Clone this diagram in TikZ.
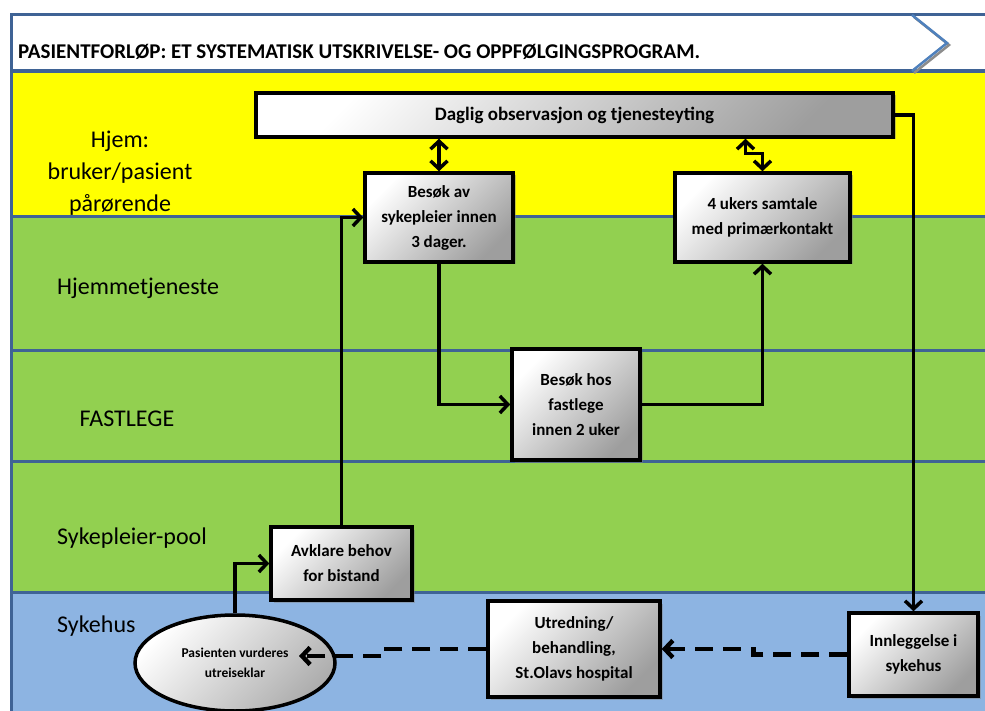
\documentclass[tikz,border=0pt]{standalone}
\usepackage{fontspec}
\setmainfont{Carlito}
\usepackage{xcolor}
\definecolor{homecolor}{HTML}{FFFF00}
\definecolor{lanegreen}{HTML}{92D050}
\definecolor{laneblue}{HTML}{8DB4E2}
\definecolor{laneborder}{HTML}{3F6395}
\definecolor{chevroncolor}{HTML}{4F81BD}
\usepackage{tikz}
\usetikzlibrary{positioning,arrows.meta,calc,shapes.geometric,shadows}
\tikzset{
    box/.style={
        rectangle,
        draw=black,
        line width=3.5pt,
        top color=white,
        bottom color=black!38,
        shading angle=45,
        text=black,
        align=center,
        inner sep=2pt,
        font=\bfseries\fontsize{17}{25}\selectfont,
        drop shadow={shadow xshift=2.5pt, shadow yshift=-2.5pt, opacity=0.45},
    },
    roundbox/.style={
        ellipse,
        draw=black,
        line width=3.5pt,
        top color=white,
        bottom color=black!32,
        shading angle=45,
        text=black,
        align=center,
        inner sep=0pt,
        font=\bfseries\fontsize{13.5}{19.5}\selectfont,
    },
    lanelabel/.style={
        text=black,
        align=center,
        inner sep=0pt,
        font=\fontsize{24}{32}\selectfont,
    },
    lane/.style={
        draw=laneborder,
        line width=3pt,
    },
    flow/.style={
        -{Straight Barb[length=8pt,width=17pt]},
        line width=3.5pt,
        black,
    },
    twoway/.style={
        {Straight Barb[length=8pt,width=17pt]}-{Straight Barb[length=8pt,width=17pt]},
        line width=3.5pt,
        black,
    },
    backflow/.style={
        -{Straight Barb[length=8pt,width=17pt]},
        line width=4.5pt,
        black,
        dash pattern=on 18pt off 10pt,
    },
}

\begin{document}
\begin{tikzpicture}[x=1pt, y=-1pt]
    \useasboundingbox (0,0) rectangle (985,711);

    % Lanes
    \fill[white] (11,15) rectangle (985,71);
    \fill[homecolor] (11,71) rectangle (985,217);
    \fill[lanegreen] (11,217) rectangle (985,592);
    \fill[laneblue] (11,592) rectangle (985,711);
    \draw[lane] (11,15) -- (985,15);
    \draw[lane, line width=4pt] (11,71) -- (985,71);
    \draw[lane] (11,217) -- (985,217);
    \draw[lane] (11,350) -- (985,350);
    \draw[lane] (11,461) -- (985,461);
    \draw[lane] (11,592) -- (985,592);
    \draw[lane] (11,13.5) -- (11,711);

    % Chevron
    \draw[black!45, line width=2.5pt] (914,17) -- (949,45) -- (914,73);
    \draw[chevroncolor, line width=2.5pt] (912,15) -- (947,43) -- (912,71);

    % Title
    \node[anchor=west, inner sep=0pt, font=\bfseries\fontsize{21}{24}\selectfont] (title) at (18,52)
        {PASIENTFORLØP: ET SYSTEMATISK UTSKRIVELSE- OG OPPFØLGINGSPROGRAM.};

    % Lane labels
    \node[lanelabel] (hjem) at (120,173) {Hjem:\\bruker/pasient\\pårørende};
    \node[lanelabel, anchor=west] (hjemmetj) at (57,288) {Hjemmetjeneste};
    \node[lanelabel] (fastlegelane) at (127,419) {FASTLEGE};
    \node[lanelabel, anchor=west] (pool) at (57,538) {Sykepleier-pool};
    \node[lanelabel, anchor=west] (sykehus) at (57,626) {Sykehus};

    % Boxes
    \node[box, minimum width=637pt, minimum height=44pt, font=\bfseries\fontsize{19}{24}\selectfont] (daglig) at (574.5,115)
        {Daglig observasjon og tjenesteyting};
    \node[box, minimum width=148pt, minimum height=89pt] (besokav) at (439,217.5)
        {Besøk av\\sykepleier innen\\3 dager.};
    \node[box, minimum width=175pt, minimum height=89pt] (ukers) at (762.5,217.5)
        {4 ukers samtale\\med primærkontakt};
    \node[box, minimum width=128pt, minimum height=111pt] (fastlege) at (576,404.5)
        {Besøk hos\\fastlege\\innen 2 uker};
    \node[box, minimum width=141pt, minimum height=73pt] (avklare) at (341.5,563.5)
        {Avklare behov\\for bistand};
    \node[box, minimum width=172pt, minimum height=96pt] (utredning) at (574,649)
        {Utredning/\\behandling,\\St.Olavs hospital};
    \node[box, minimum width=129pt, minimum height=83pt] (innleggelse) at (913.5,654.5)
        {Innleggelse i\\sykehus};
    \node[roundbox, minimum width=200pt, minimum height=96pt] (vurdering) at (235,663)
        {Pasienten vurderes\\utreiseklar};
    \coordinate (vurderingtip) at (299,656);

    % Connections
    \draw[twoway] (besokav.north |- daglig.south) -- (besokav.north);
    \draw[twoway] ($(ukers.north |- daglig.south)+(-17,0)$) -- ++(0,15) -| (ukers.north);
    \draw[flow] (daglig.east) -| (innleggelse.north);
    \draw[flow] (vurdering.north) |- (avklare.west);
    \draw[flow] (avklare.north) |- (besokav.west);
    \draw[flow] (besokav.south) |- (fastlege.west);
    \draw[flow] (fastlege.east) -| (ukers.south);
    \draw[backflow] (innleggelse.west) -- ++(-94,0) |- (utredning.east);
    \draw[backflow] (utredning.west) -- ++(-102,0) |- (vurderingtip);

\end{tikzpicture}
\end{document}
